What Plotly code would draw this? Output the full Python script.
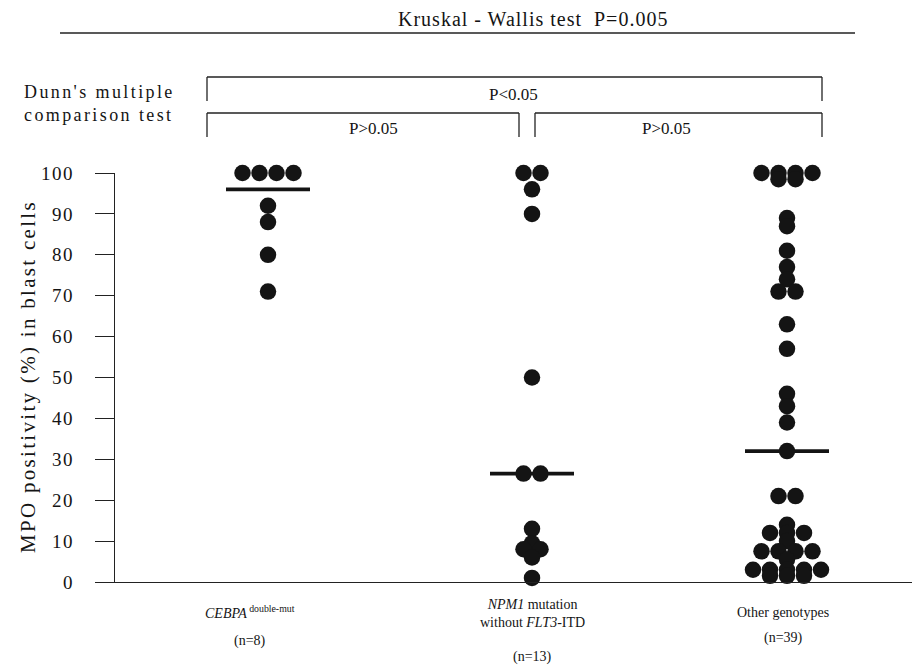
import plotly.graph_objects as go
from collections import Counter

# ---------------- data ----------------
categories = ["CEBPA double-mut", "NPM1 mutation without FLT3-ITD", "Other genotypes"]
cat_labels = ["<i>CEBPA</i><sup> double-mut</sup>",
              "<i>NPM1</i> mutation<br>without <i>FLT3</i>-ITD",
              "Other genotypes"]
n_labels = ["(n=8)", "(n=13)", "(n=39)"]

cebpa_values = [100, 100, 100, 100, 92, 88, 80, 71]
npm1_values = [100, 100, 96, 90, 50, 26.5, 26.5, 13, 9.5, 8, 8, 6, 1]
other_values = [100, 100, 100, 100, 98.5, 98.5, 89, 87, 81, 77, 74, 71, 71,
                63, 57, 46, 43, 39, 32, 21, 21, 14, 12, 12, 12, 10,
                7.5, 7.5, 7.5, 7.5, 5.5, 3, 3, 3, 3, 3, 1.5, 1.5, 1.5]
medians = [96, 26.5, 32]
y_ticks = [0, 10, 20, 30, 40, 50, 60, 70, 80, 90, 100]

kw_text = "Kruskal - Wallis test  P=0.005"
dunn_lines = ["Dunn's multiple", "comparison test"]
p_all = "P<0.05"
p_left = "P>0.05"
p_right = "P>0.05"
y_title = "MPO positivity (%) in blast cells"

# ---------------- layout geometry (window pixel coords of the reference) ----
OFF = 8                         # page body margin
W, H = 920 - OFF, 668 - OFF
L, R, T, B = 115 - OFF, 0, 173 - OFF, 86
PW, PH = W - L - R, H - T - B
GROUP_X = [153, 417, 672]       # x units == pixels inside plot area
LABEL_X = [135, 417, 668]
DOT_SPACING = 17
MED_HALF = 42
FONT = "Liberation Serif"
INK = "#141414"


def px2x(px):
    return (px - OFF - L) / PW


def py2y(py):
    return (H - B - (py - OFF)) / PH


def spaced(text, ls):
    return '<span style="letter-spacing:%spx">%s</span>' % (ls, text)


def dot_offsets(values):
    counts = Counter(values)
    seen = Counter()
    out = []
    for v in values:
        n = counts[v]
        i = seen[v]
        seen[v] += 1
        out.append((i - (n - 1) / 2) * DOT_SPACING)
    return out


fig = go.Figure()

# median lines
mx, my = [], []
for gx, m in zip(GROUP_X, medians):
    mx += [gx - MED_HALF, gx + MED_HALF, None]
    my += [m, m, None]
fig.add_trace(go.Scatter(x=mx, y=my, mode="lines", line=dict(color=INK, width=3.8),
                         hoverinfo="skip", showlegend=False, cliponaxis=False))

for gx, vals, name in zip(GROUP_X, [cebpa_values, npm1_values, other_values], categories):
    offs = dot_offsets(vals)
    fig.add_trace(go.Scatter(
        x=[gx + o for o in offs], y=vals, mode="markers", name=name,
        marker=dict(size=16.5, color=INK, line=dict(width=0)),
        showlegend=False, cliponaxis=False))

shapes = []
lw = dict(color="#222222", width=1.3)
shapes.append(dict(type="line", xref="paper", yref="paper",
                   x0=px2x(60), x1=px2x(855), y0=py2y(33), y1=py2y(33),
                   line=dict(color="#222222", width=1.6)))


def bracket(x0, x1, ytop, ybot):
    return [
        dict(type="line", xref="paper", yref="paper", x0=px2x(x0), x1=px2x(x1),
             y0=py2y(ytop), y1=py2y(ytop), line=lw),
        dict(type="line", xref="paper", yref="paper", x0=px2x(x0), x1=px2x(x0),
             y0=py2y(ytop), y1=py2y(ybot), line=lw),
        dict(type="line", xref="paper", yref="paper", x0=px2x(x1), x1=px2x(x1),
             y0=py2y(ytop), y1=py2y(ybot), line=lw),
    ]


shapes += bracket(207, 822, 77, 101)
shapes += bracket(207, 519, 113, 137)
shapes += bracket(535, 822, 113, 137)

ann = []


def add_text(text, px, py, size, xanchor="center", angle=0):
    ann.append(dict(text=text, x=px2x(px), y=py2y(py), xref="paper", yref="paper",
                    showarrow=False, textangle=angle, align="left",
                    font=dict(family=FONT, size=size, color=INK),
                    xanchor=xanchor, yanchor="middle"))


add_text(spaced(kw_text, 1.0), 533, 19, 20)
add_text(spaced(dunn_lines[0], 2.4) + "<br>" + spaced(dunn_lines[1], 2.4), 22, 103, 18,
         xanchor="left")
add_text(p_all, 513, 95, 17)
add_text(p_left, 373, 129, 17)
add_text(p_right, 666, 129, 17)
add_text(spaced(y_title, 2.3), 28, 377, 21, angle=-90)

label_y = [612, 613, 612]
n_y = [641, 657, 638]
for lx, lab, nl, ly, ny in zip(LABEL_X, cat_labels, n_labels, label_y, n_y):
    ann.append(dict(text=lab, x=lx, y=py2y(ly), xref="x", yref="paper", showarrow=False,
                    font=dict(family=FONT, size=14, color=INK),
                    xanchor="center", yanchor="middle"))
    ann.append(dict(text=nl, x=lx, y=py2y(ny), xref="x", yref="paper", showarrow=False,
                    font=dict(family=FONT, size=14, color=INK),
                    xanchor="center", yanchor="middle"))

fig.update_layout(
    width=W, height=H,
    margin=dict(l=L, r=R, t=T, b=B, pad=0),
    paper_bgcolor="white", plot_bgcolor="white",
    shapes=shapes, annotations=ann,
    xaxis=dict(range=[0, PW], showgrid=False, zeroline=False, showline=True,
               linecolor="#222222", linewidth=1.3, showticklabels=False, ticks="",
               fixedrange=True),
    yaxis=dict(range=[0, 100], showgrid=False, zeroline=False, showline=True,
               linecolor="#222222", linewidth=1.3, ticks="outside", ticklen=19,
               tickwidth=1.3, tickcolor="#222222", tickvals=y_ticks,
               ticktext=[spaced(str(v), 1.5) for v in y_ticks],
               ticklabelstandoff=17,
               tickfont=dict(family=FONT, size=19, color=INK), fixedrange=True),
)

fig.write_html("out.html")
